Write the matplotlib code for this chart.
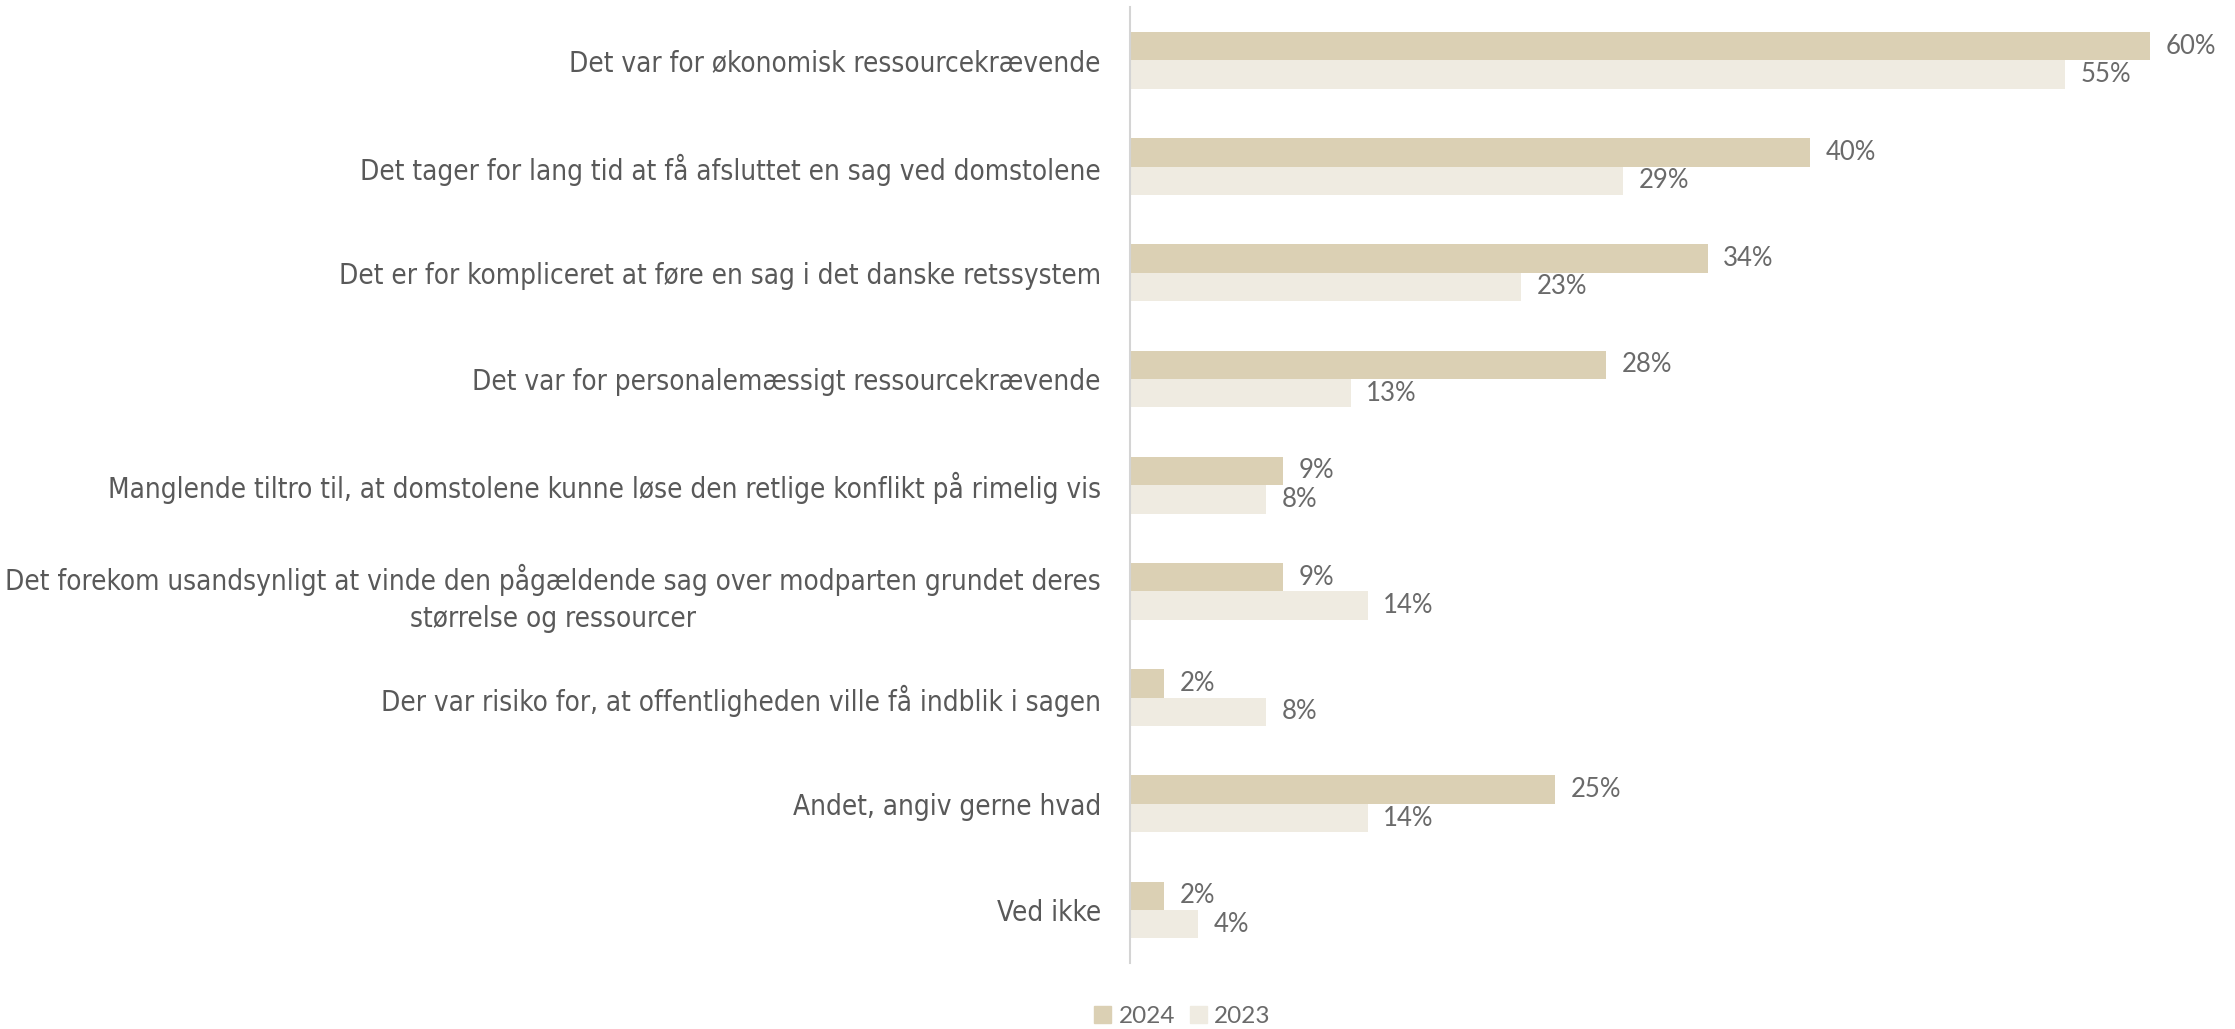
import numpy as np
import matplotlib.pyplot as plt
from matplotlib.patches import Patch

# Data
categories = [
    "Det var for økonomisk ressourcekrævende",
    "Det tager for lang tid at få afsluttet en sag ved domstolene",
    "Det er for kompliceret at føre en sag i det danske retssystem",
    "Det var for personalemæssigt ressourcekrævende",
    "Manglende tiltro til, at domstolene kunne løse den retlige konflikt på rimelig vis",
    "Det forekom usandsynligt at vinde den pågældende sag over modparten grundet deres\nstørrelse og ressourcer",
    "Der var risiko for, at offentligheden ville få indblik i sagen",
    "Andet, angiv gerne hvad",
    "Ved ikke",
]
values_2024 = [60, 40, 34, 28, 9, 9, 2, 25, 2]
values_2023 = [55, 29, 23, 13, 8, 14, 8, 14, 4]
series_labels = ["2024", "2023"]

col_2024 = "#dbd0b4"
col_2023 = "#efebe1"
text_col = "#595959"
value_col = "#6a6a6a"
value_font = ["Lato", "DejaVu Sans"]

fig = plt.figure(figsize=(22.35, 10.29), dpi=100)
ax = fig.add_axes([0.5056, 0.064, 0.4944, 0.929])

y = np.arange(len(categories))
h = 0.267
b1 = ax.barh(y - h / 2, values_2024, height=h, color=col_2024)
b2 = ax.barh(y + h / 2, values_2023, height=h, color=col_2023)

for bars, vals in [(b1, values_2024), (b2, values_2023)]:
    for rect, v in zip(bars, vals):
        ax.annotate(f"{v}%", (rect.get_width(), rect.get_y() + rect.get_height() / 2),
                    xytext=(11, 0), textcoords="offset points", va="center", ha="left",
                    fontsize=18.5, color=value_col, family=value_font)

ax.set_xlim(0, 65)
ax.set_ylim(len(categories) - 0.5, -0.5)
ax.set_yticks(y)
ax.set_yticklabels(categories, fontsize=20, color=text_col, family="DejaVu Sans",
                   fontstretch="condensed")
for lab in ax.get_yticklabels():
    lab.set_multialignment("center")
    lab.set_linespacing(1.4)
ax.tick_params(axis="y", length=0, pad=21)
ax.set_xticks([])
for s in ["top", "right", "bottom"]:
    ax.spines[s].set_visible(False)
ax.spines["left"].set_color("#d4d4d4")
ax.spines["left"].set_linewidth(1.5)

handles = [Patch(color=col_2024, label=series_labels[0]),
           Patch(color=col_2023, label=series_labels[1])]
fig.legend(handles=handles, loc="center", bbox_to_anchor=(0.529, 0.0126), ncol=2,
           frameon=False, handlelength=0.7, handleheight=0.7, handletextpad=0.3,
           columnspacing=0.6, prop={"family": value_font, "size": 17.5},
           labelcolor=value_col)

fig.savefig("out.png", dpi=100)
